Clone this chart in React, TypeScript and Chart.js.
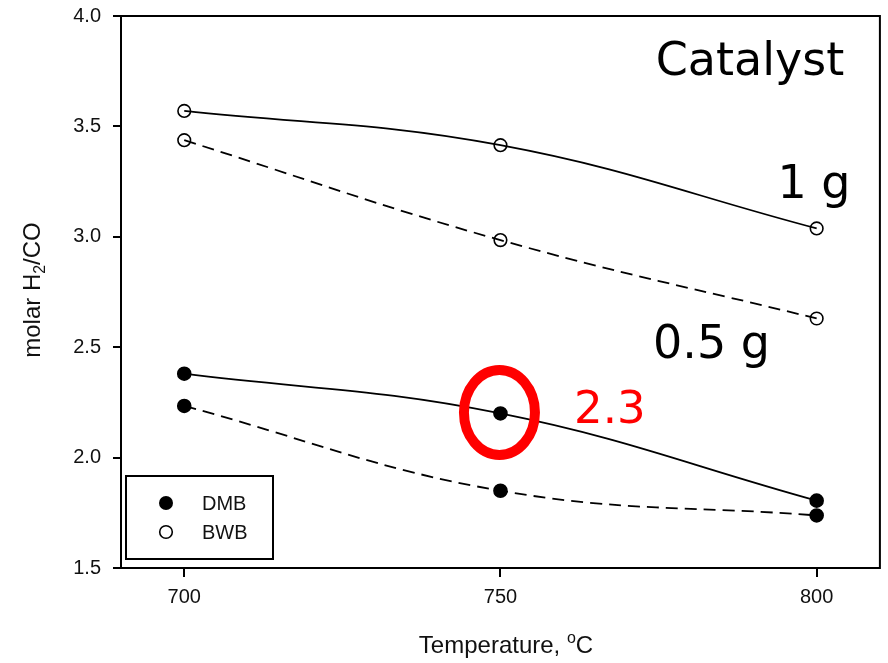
import React, { useEffect, useRef } from 'react';
import { Chart, registerables } from 'chart.js';

Chart.register(...registerables);

// ---- data ----
const temperatures = [700, 750, 800];
const yTickValues = [1.5, 2.0, 2.5, 3.0, 3.5, 4.0];
const dmb1g = [2.38, 2.2, 1.805];
const dmb05g = [2.234, 1.85, 1.738];
const bwb1g = [3.57, 3.415, 3.038];
const bwb05g = [3.4375, 2.985, 2.63];
const legendLabels = ['DMB', 'BWB'];
const annotationTexts = { title: 'Catalyst', high: '1 g', low: '0.5 g', highlight: '2.3' };
const highlightPoint = { x: 750, y: 2.2 };

const SANS = '"Liberation Sans", Arial, sans-serif';
const VERD = '"DejaVu Sans", Verdana, sans-serif';

type Seg = { t: string; s?: 'sup' | 'sub' };

function drawRich(ctx: CanvasRenderingContext2D, segs: Seg[], x: number, y: number, size: number, align: 'center' | 'left') {
  const small = Math.round(size * 0.65);
  const widths = segs.map((sg) => {
    ctx.font = `${sg.s ? small : size}px ${SANS}`;
    return ctx.measureText(sg.t).width;
  });
  const total = widths.reduce((a, b) => a + b, 0);
  let cx = align === 'center' ? x - total / 2 : x;
  ctx.textAlign = 'left';
  ctx.textBaseline = 'alphabetic';
  segs.forEach((sg, i) => {
    ctx.font = `${sg.s ? small : size}px ${SANS}`;
    const dy = sg.s === 'sup' ? -size * 0.42 : sg.s === 'sub' ? size * 0.22 : 0;
    ctx.fillText(sg.t, cx, y + dy);
    cx += widths[i];
  });
}

const overlayPlugin = {
  id: 'overlay',
  afterDraw(chart: any) {
    const ctx: CanvasRenderingContext2D = chart.ctx;
    const a = chart.chartArea;
    const xs = chart.scales.x;
    const ys = chart.scales.y;
    ctx.save();
    // frame
    ctx.strokeStyle = '#000';
    ctx.lineWidth = 2;
    ctx.strokeRect(a.left, a.top, a.right - a.left, a.bottom - a.top);

    // legend
    const lx = 126, ly = 476, lw = 147, lh = 83;
    ctx.fillStyle = '#fff';
    ctx.fillRect(lx, ly, lw, lh);
    ctx.strokeRect(lx, ly, lw, lh);
    const rows = [ly + 27, ly + 56];
    legendLabels.forEach((lab, i) => {
      ctx.beginPath();
      ctx.arc(lx + 40, rows[i], i === 0 ? 7 : 6.3, 0, Math.PI * 2);
      if (i === 0) {
        ctx.fillStyle = '#000';
        ctx.fill();
      } else {
        ctx.lineWidth = 1.6;
        ctx.strokeStyle = '#000';
        ctx.stroke();
      }
      ctx.fillStyle = '#111';
      ctx.font = `20px ${SANS}`;
      ctx.textAlign = 'left';
      ctx.textBaseline = 'middle';
      ctx.fillText(lab, lx + 76, rows[i] + 1);
    });

    // axis titles
    ctx.fillStyle = '#111';
    drawRich(ctx, [{ t: 'Temperature, ' }, { t: 'o', s: 'sup' }, { t: 'C' }], 506, 653, 24, 'center');
    ctx.save();
    ctx.translate(40, 290);
    ctx.rotate(-Math.PI / 2);
    drawRich(ctx, [{ t: 'molar H' }, { t: '2', s: 'sub' }, { t: '/CO' }], 0, 0, 24, 'center');
    ctx.restore();

    // annotations
    ctx.fillStyle = '#000';
    ctx.font = `46px ${VERD}`;
    ctx.textBaseline = 'alphabetic';
    ctx.textAlign = 'center';
    ctx.fillText(annotationTexts.title, 750, 75);
    ctx.fillText(annotationTexts.high, 814, 198);
    ctx.textAlign = 'left';
    ctx.fillText(annotationTexts.low, 653, 358);

    // highlight
    const px = xs.getPixelForValue(highlightPoint.x) - 1;
    const py = ys.getPixelForValue(highlightPoint.y) - 1;
    ctx.strokeStyle = '#ff0000';
    ctx.lineWidth = 10;
    ctx.beginPath();
    ctx.ellipse(px, py, 35.5, 42.5, 0, 0, Math.PI * 2);
    ctx.stroke();
    ctx.fillStyle = '#ff0000';
    ctx.font = `45px ${VERD}`;
    ctx.textAlign = 'left';
    ctx.fillText(annotationTexts.highlight, 574, 423);
    ctx.restore();
  },
};

function series(values: number[]) {
  return temperatures.map((t, i) => ({ x: t, y: values[i] }));
}

function zeroPad(s: any) {
  s.paddingTop = 0;
  s.paddingBottom = 0;
  s.paddingLeft = 0;
  s.paddingRight = 0;
}

export default function App() {
  const ref = useRef<HTMLCanvasElement | null>(null);
  useEffect(() => {
    const canvas = ref.current;
    if (!canvas) return;
    const common = { borderColor: '#000', borderWidth: 1.8, tension: 0.4, pointBorderColor: '#000', pointBorderWidth: 1.6, fill: false };
    const chart = new Chart(canvas, {
      type: 'line',
      data: {
        datasets: [
          { ...common, label: 'DMB 1 g', data: series(dmb1g), pointRadius: 6.5, pointBackgroundColor: '#000' },
          { ...common, label: 'DMB 0.5 g', data: series(dmb05g), borderDash: [12, 7], pointRadius: 6.5, pointBackgroundColor: '#000' },
          { ...common, label: 'BWB 1 g', data: series(bwb1g), pointRadius: 6.3, pointBackgroundColor: 'rgba(0,0,0,0)' },
          { ...common, label: 'BWB 0.5 g', data: series(bwb05g), borderDash: [12, 7], pointRadius: 6.3, pointBackgroundColor: 'rgba(0,0,0,0)' },
        ],
      },
      options: {
        responsive: false,
        animation: false,
        devicePixelRatio: 1,
        layout: { padding: { left: 0, top: 16, right: 0, bottom: 0 } },
        plugins: { legend: { display: false }, tooltip: { enabled: false }, title: { display: false } },
        scales: {
          x: {
            type: 'linear',
            min: 690,
            max: 810,
            afterBuildTicks: (s: any) => { s.ticks = temperatures.map((v) => ({ value: v })); },
            afterFit: (s: any) => { s.height = 95; zeroPad(s); },
            border: { display: false },
            grid: { drawOnChartArea: false, drawTicks: true, tickLength: 9, color: '#000', lineWidth: 2 },
            ticks: { padding: 8, color: '#111', font: { family: SANS, size: 20 }, maxRotation: 0 },
          },
          y: {
            type: 'linear',
            min: 1.5,
            max: 4.0,
            afterBuildTicks: (s: any) => { s.ticks = yTickValues.map((v) => ({ value: v })); },
            afterFit: (s: any) => { s.width = 121; zeroPad(s); },
            border: { display: false },
            grid: { drawOnChartArea: false, drawTicks: true, tickLength: 8, color: '#000', lineWidth: 2 },
            ticks: { padding: 12, color: '#111', font: { family: SANS, size: 20 }, callback: (v: any) => Number(v).toFixed(1) },
          },
        },
      },
      plugins: [overlayPlugin],
    });
    return () => chart.destroy();
  }, []);
  return (
    <div style={{ position: 'absolute', left: 0, top: 0, width: 888, height: 663, background: '#fff' }}>
      <canvas ref={ref} width={888} height={663} style={{ width: 888, height: 663, display: 'block' }} />
    </div>
  );
}
